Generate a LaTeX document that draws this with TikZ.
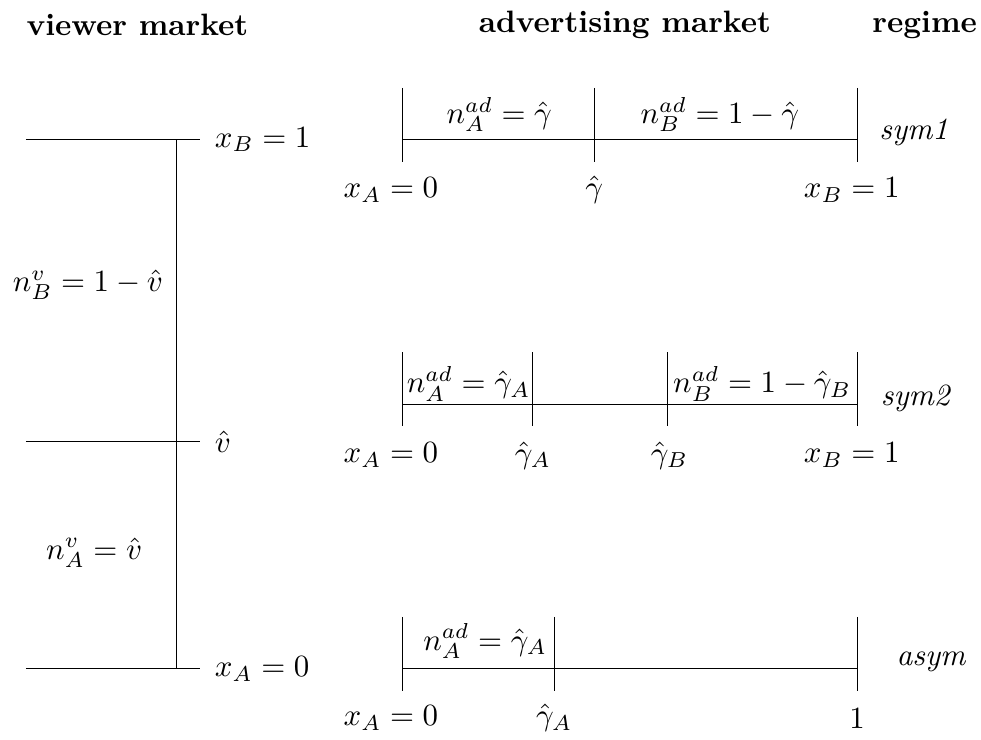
\documentclass[tikz,border=0pt]{standalone}
\usepackage{amsmath}
\usepackage{tikz}
\usetikzlibrary{positioning}

\begin{document}
\begin{tikzpicture}[
  every node/.style={inner sep=1pt, scale=1.12},
  head/.style={font=\bfseries},
  regimelabel/.style={font=\itshape},
  tickline/.style={draw}
]
\useasboundingbox (0,0) rectangle (12.497,-9.427);

% headers
\node[head] (hviewer) at (1.75,-0.32) {viewer market};
\node[head] (hadvert) at (7.96,-0.32) {advertising market};
\node[head] (hregime) at (11.78,-0.32) {regime};

% viewer market
\foreach \n/\y in {top/-1.78, mid/-5.63, bot/-8.52} {
  \coordinate (v\n L) at (0.33,\y);
  \coordinate (v\n R) at (2.55,\y);
  \coordinate (v\n X) at (2.25,\y);
  \draw (v\n L) -- (v\n R);
}
\draw (vtopX) -- (vbotX);
\node[right=4pt of vtopR] (xBv) {$x_B = 1$};
\node[right=4pt of vmidR] (vhat) {$\hat{v}$};
\node[right=4pt of vbotR] (xAv) {$x_A = 0$};
\node (nBv) at (1.12,-3.63) {$n_B^v = 1 - \hat{v}$};
\node (nAv) at (1.20,-7.04) {$n_A^v = \hat{v}$};

% advertising market, sym1
\coordinate (s1L) at (5.13,-1.78);
\coordinate (s1R) at (10.92,-1.78);
\draw (s1L) -- (s1R);
\foreach \x in {5.13, 7.57, 10.92}
  \draw[tickline] (\x,-1.12) -- (\x,-2.06);
\node (s1nA) at (6.36,-1.46) {$n_A^{ad} = \hat{\gamma}$};
\node (s1nB) at (9.17,-1.46) {$n_B^{ad} = 1 - \hat{\gamma}$};
\node (s1xA) at (4.98,-2.42) {$x_A = 0$};
\node (s1g) at (7.57,-2.42) {$\hat{\gamma}$};
\node (s1xB) at (10.85,-2.42) {$x_B = 1$};
\node[regimelabel] (sym1) at (11.64,-1.69) {sym1};

% advertising market, sym2
\coordinate (s2L) at (5.13,-5.15);
\coordinate (s2R) at (10.92,-5.15);
\draw (s2L) -- (s2R);
\foreach \x in {5.13, 6.78, 8.50, 10.92}
  \draw[tickline] (\x,-4.49) -- (\x,-5.43);
\node (s2nA) at (5.97,-4.89) {$n_A^{ad} = \hat{\gamma}_A$};
\node (s2nB) at (9.71,-4.89) {$n_B^{ad} = 1 - \hat{\gamma}_B$};
\node (s2xA) at (4.98,-5.80) {$x_A = 0$};
\node (s2gA) at (6.79,-5.80) {$\hat{\gamma}_A$};
\node (s2gB) at (8.53,-5.80) {$\hat{\gamma}_B$};
\node (s2xB) at (10.85,-5.80) {$x_B = 1$};
\node[regimelabel] (sym2) at (11.66,-5.07) {sym2};

% advertising market, asym
\coordinate (aL) at (5.13,-8.52);
\coordinate (aR) at (10.92,-8.52);
\draw (aL) -- (aR);
\foreach \x in {5.13, 7.06, 10.92}
  \draw[tickline] (\x,-7.86) -- (\x,-8.80);
\node (anA) at (6.18,-8.17) {$n_A^{ad} = \hat{\gamma}_A$};
\node (axA) at (4.98,-9.15) {$x_A = 0$};
\node (agA) at (7.06,-9.15) {$\hat{\gamma}_A$};
\node (aone) at (10.92,-9.15) {$1$};
\node[regimelabel] (asym) at (11.86,-8.43) {asym};
\end{tikzpicture}
\end{document}
